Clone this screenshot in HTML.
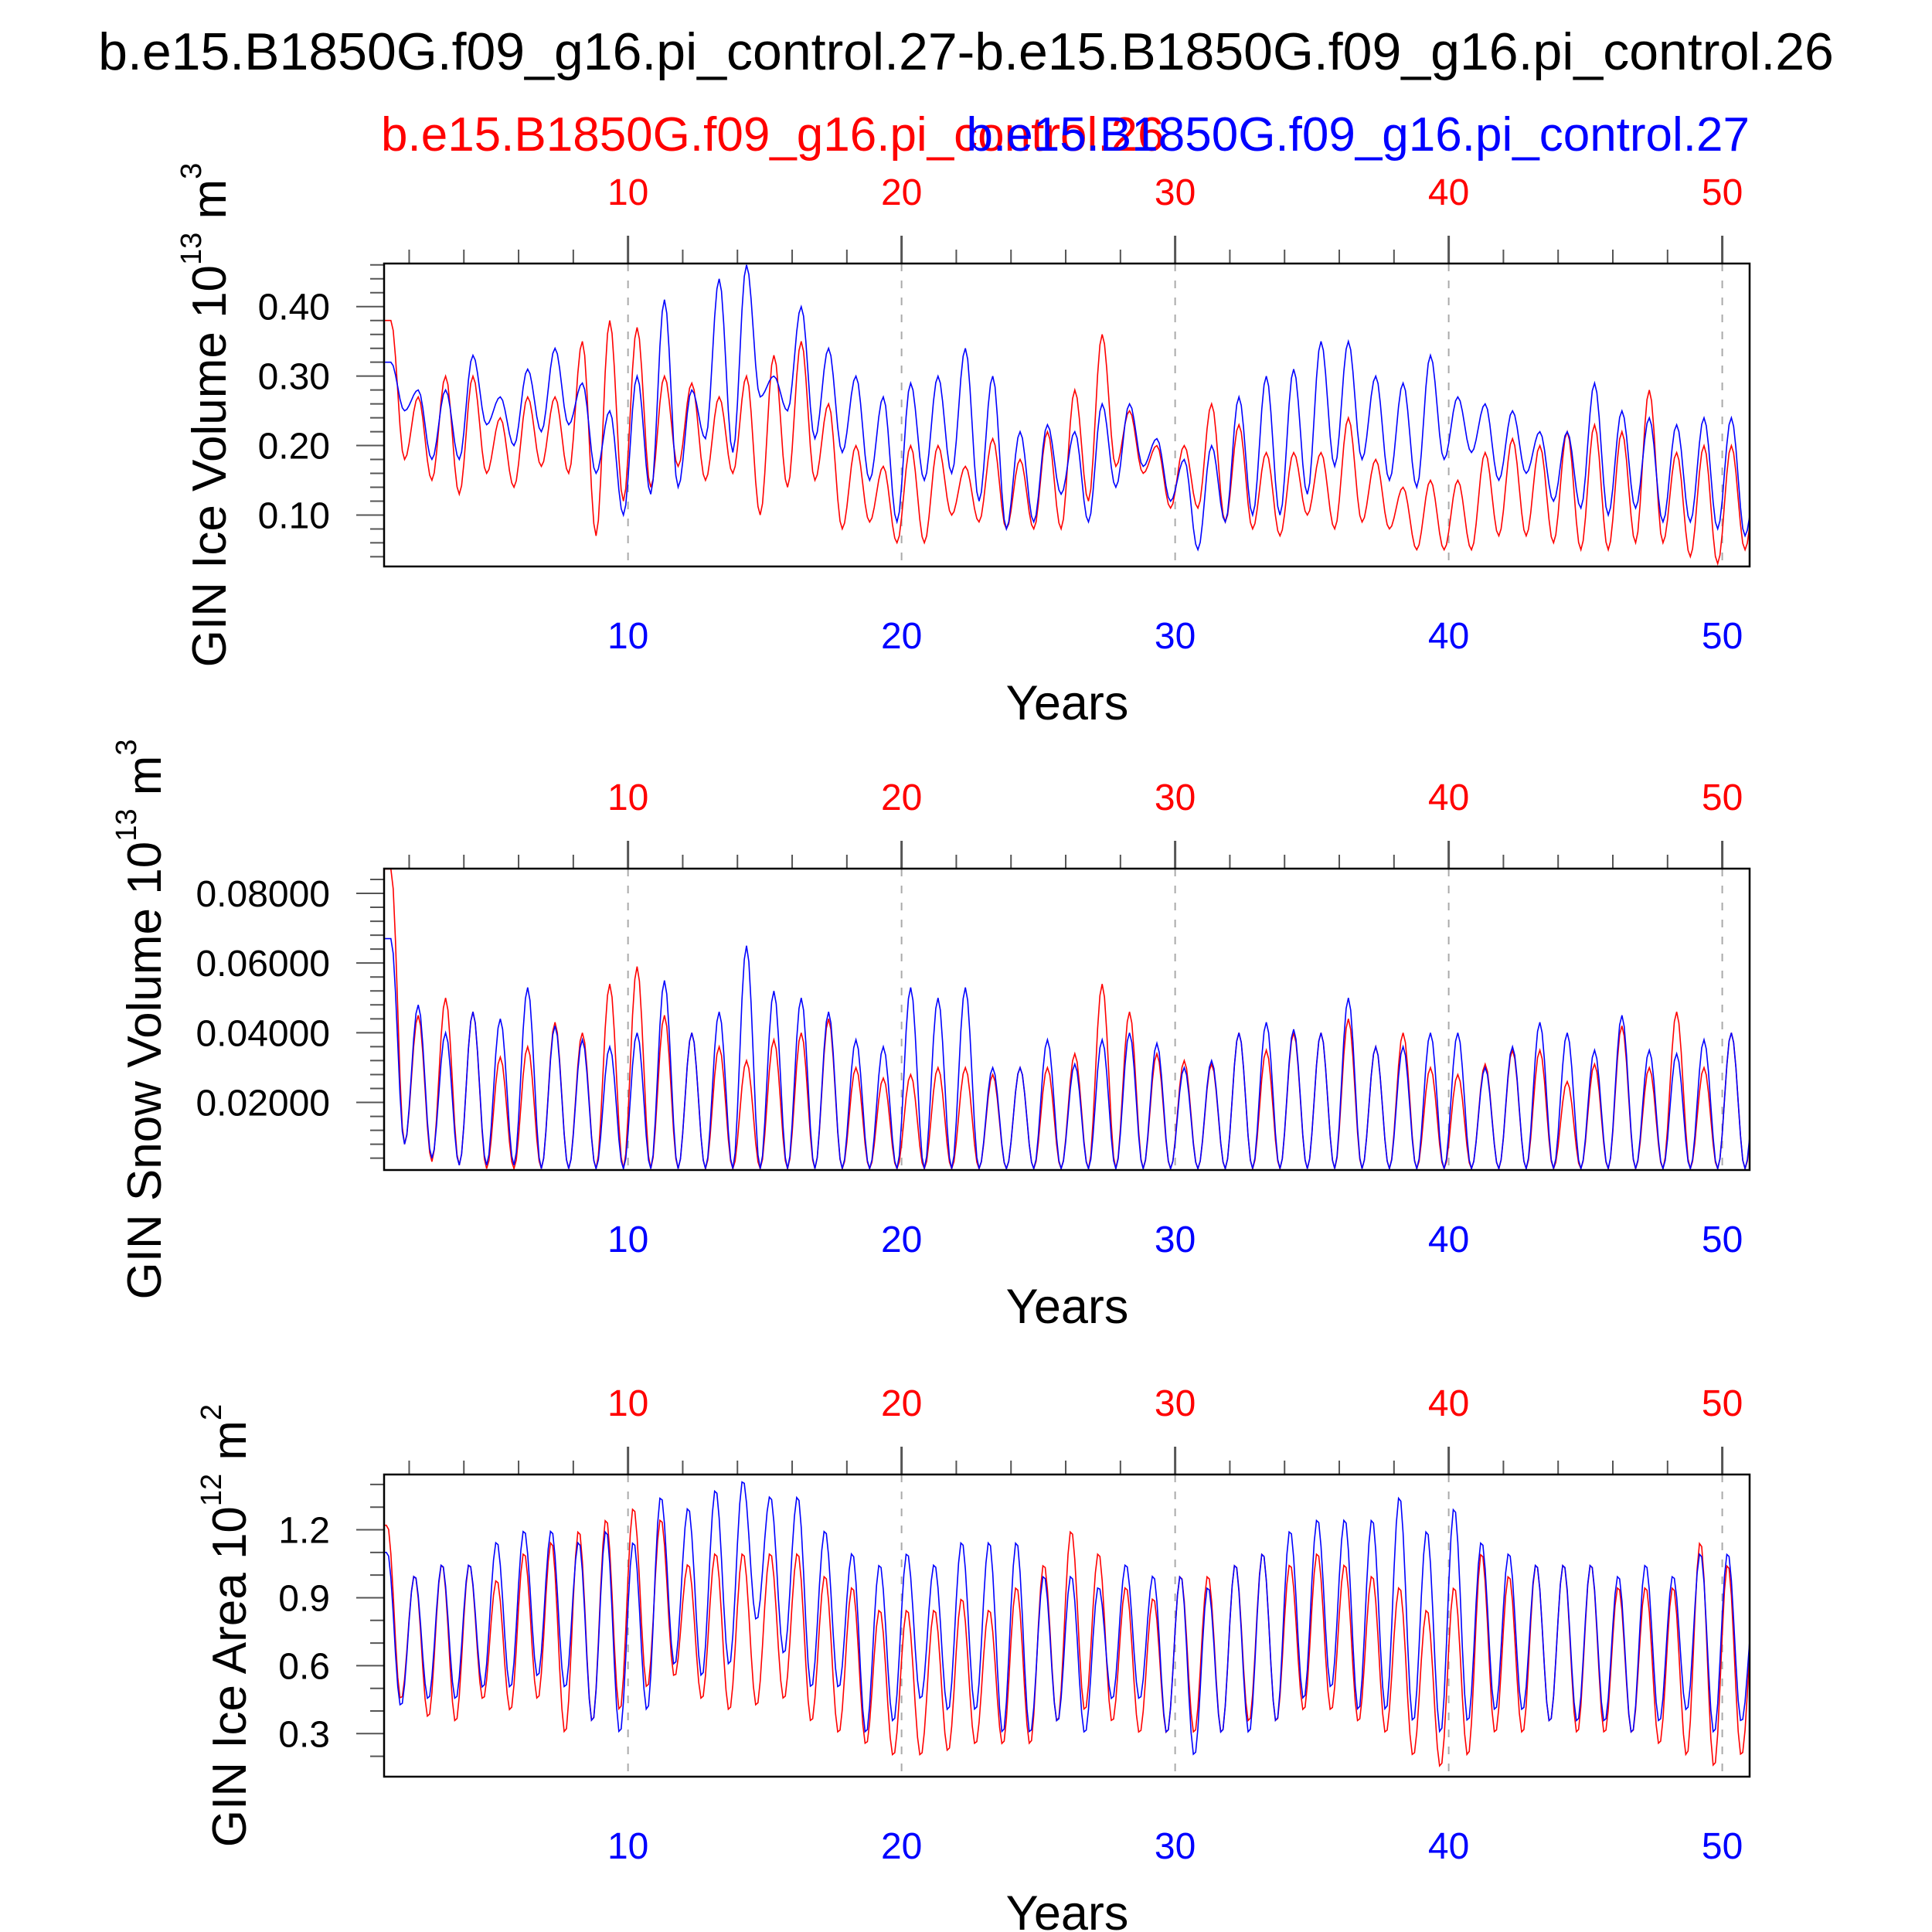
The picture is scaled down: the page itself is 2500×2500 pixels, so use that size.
<!DOCTYPE html>
<html><head><meta charset="utf-8">
<style>
html,body{margin:0;padding:0;background:#fff;}
svg{display:block;font-family:"Liberation Sans",sans-serif;}
</style></head>
<body>
<svg id="chart" width="2500" height="2500" viewBox="0 0 2500 2500" xmlns="http://www.w3.org/2000/svg">
<text x="1250" y="90" font-size="68" text-anchor="middle">b.e15.B1850G.f09_g16.pi_control.27-b.e15.B1850G.f09_g16.pi_control.26</text>
<text x="493" y="195" font-size="62" fill="#ff0000">b.e15.B1850G.f09_g16.pi_control.26</text>
<text x="2264" y="195" font-size="62" fill="#0000ff" text-anchor="end">b.e15.B1850G.f09_g16.pi_control.27</text>
</svg>
<script>
// ---- data: yearly seasonal maxima/minima (years 1..51) ----
const years = Array.from({length:51},(_,i)=>i+1);
const xTicks = [10,20,30,40,50];
const iceVolTicks = [0.10,0.20,0.30,0.40];
const iceVolTickLabels = ["0.10","0.20","0.30","0.40"];
const snowTicks = [0.02,0.04,0.06,0.08];
const snowTickLabels = ["0.02000","0.04000","0.06000","0.08000"];
const areaTicks = [0.3,0.6,0.9,1.2];
const areaTickLabels = ["0.3","0.6","0.9","1.2"];

const iceVolRedMax = [0.38,0.27,0.30,0.30,0.24,0.27,0.27,0.35,0.38,0.37,0.30,0.29,0.27,0.30,0.33,0.35,0.26,0.20,0.17,0.20,0.20,0.17,0.21,0.18,0.22,0.28,0.36,0.25,0.20,0.20,0.26,0.23,0.19,0.19,0.19,0.24,0.18,0.14,0.15,0.15,0.19,0.21,0.20,0.22,0.23,0.22,0.28,0.19,0.20,0.20,0.18];
const iceVolRedMin = [0.18,0.15,0.13,0.16,0.14,0.17,0.16,0.07,0.12,0.14,0.17,0.15,0.16,0.10,0.14,0.15,0.08,0.09,0.06,0.06,0.10,0.09,0.08,0.08,0.08,0.12,0.17,0.16,0.11,0.11,0.09,0.08,0.07,0.10,0.08,0.09,0.08,0.05,0.05,0.05,0.07,0.07,0.06,0.05,0.05,0.06,0.06,0.04,0.03,0.05,0.09];
const iceVolBlueMax = [0.32,0.28,0.28,0.33,0.27,0.31,0.34,0.29,0.25,0.30,0.41,0.28,0.44,0.46,0.30,0.40,0.34,0.30,0.27,0.29,0.30,0.34,0.30,0.22,0.23,0.22,0.26,0.26,0.21,0.18,0.20,0.27,0.30,0.31,0.35,0.35,0.30,0.29,0.33,0.27,0.26,0.25,0.22,0.22,0.29,0.25,0.24,0.23,0.24,0.24,0.18];
const iceVolBlueMin = [0.25,0.18,0.18,0.23,0.20,0.22,0.23,0.16,0.10,0.13,0.14,0.21,0.19,0.27,0.25,0.21,0.19,0.15,0.09,0.15,0.16,0.12,0.08,0.09,0.13,0.09,0.14,0.17,0.12,0.05,0.09,0.10,0.10,0.13,0.17,0.18,0.15,0.14,0.18,0.19,0.15,0.16,0.12,0.11,0.10,0.11,0.09,0.09,0.08,0.07,0.10];

const snowRedMax = [0.087,0.045,0.050,0.046,0.033,0.036,0.043,0.040,0.054,0.059,0.045,0.040,0.036,0.032,0.038,0.040,0.044,0.030,0.027,0.028,0.030,0.030,0.028,0.030,0.030,0.034,0.054,0.046,0.034,0.032,0.031,0.040,0.035,0.040,0.040,0.044,0.036,0.040,0.030,0.028,0.031,0.035,0.035,0.026,0.031,0.042,0.030,0.046,0.030,0.040,0.030];
const snowRedMin = [0.008,0.003,0.002,0.001,0.001,0.001,0.001,0.001,0.001,0.001,0.001,0.001,0.001,0.001,0.001,0.001,0.001,0.001,0.001,0.001,0.001,0.001,0.001,0.001,0.001,0.001,0.001,0.001,0.001,0.001,0.001,0.001,0.001,0.001,0.001,0.001,0.001,0.001,0.001,0.001,0.001,0.001,0.001,0.001,0.001,0.001,0.001,0.001,0.001,0.001,0.001];
const snowBlueMax = [0.067,0.048,0.040,0.046,0.044,0.053,0.042,0.038,0.036,0.040,0.055,0.040,0.046,0.065,0.052,0.050,0.046,0.038,0.036,0.053,0.050,0.053,0.030,0.030,0.038,0.031,0.038,0.040,0.037,0.030,0.032,0.040,0.043,0.041,0.040,0.050,0.036,0.036,0.040,0.040,0.030,0.036,0.043,0.040,0.035,0.045,0.035,0.034,0.038,0.040,0.036];
const snowBlueMin = [0.008,0.004,0.002,0.002,0.002,0.001,0.001,0.001,0.001,0.001,0.001,0.001,0.001,0.001,0.001,0.001,0.001,0.001,0.001,0.001,0.001,0.001,0.001,0.001,0.001,0.001,0.001,0.001,0.001,0.001,0.001,0.001,0.001,0.001,0.001,0.001,0.001,0.001,0.001,0.001,0.001,0.001,0.001,0.001,0.001,0.001,0.001,0.001,0.001,0.001,0.001];

const areaRedMax = [1.22,1.0,1.05,1.05,0.98,1.1,1.15,1.2,1.25,1.30,1.25,1.05,1.1,1.1,1.1,1.1,1.0,0.95,0.85,0.85,0.85,0.9,0.85,0.95,1.05,1.2,1.1,0.95,0.9,1.0,1.0,1.05,1.1,1.05,1.1,1.05,1.0,0.95,0.85,0.95,1.1,1.0,1.05,1.05,1.05,0.95,0.95,0.95,1.15,1.05,0.9];
const areaRedMin = [0.45,0.37,0.35,0.45,0.4,0.45,0.3,0.35,0.4,0.5,0.55,0.45,0.4,0.42,0.45,0.35,0.3,0.25,0.2,0.2,0.22,0.25,0.25,0.25,0.35,0.4,0.35,0.3,0.3,0.3,0.3,0.35,0.35,0.4,0.4,0.35,0.3,0.2,0.15,0.2,0.3,0.3,0.35,0.3,0.3,0.3,0.25,0.2,0.15,0.2,0.35];
const areaBlueMax = [1.1,1.0,1.05,1.05,1.15,1.2,1.2,1.15,1.2,1.15,1.35,1.3,1.38,1.42,1.35,1.35,1.2,1.1,1.05,1.1,1.05,1.15,1.15,1.15,1.0,1.0,0.95,1.05,1.0,1.0,0.95,1.05,1.1,1.2,1.25,1.25,1.25,1.35,1.2,1.3,1.15,1.1,1.05,1.05,1.05,1.0,1.05,1.0,1.1,1.1,0.9];
const areaBlueMin = [0.42,0.45,0.45,0.5,0.5,0.55,0.5,0.35,0.3,0.4,0.6,0.55,0.6,0.8,0.65,0.5,0.5,0.3,0.35,0.45,0.4,0.4,0.3,0.3,0.35,0.3,0.45,0.45,0.3,0.2,0.3,0.3,0.35,0.45,0.5,0.4,0.4,0.35,0.3,0.35,0.4,0.4,0.35,0.35,0.35,0.3,0.35,0.4,0.3,0.35,0.35];

const NS="http://www.w3.org/2000/svg";
const svg=document.getElementById('chart');
const X0=497, X1=2264, T0=1.083, T1=51.0;
function xs(t){return X0+(t-T0)/(T1-T0)*(X1-X0);}
function mk(tag,attrs,parent){const e=document.createElementNS(NS,tag);for(const k in attrs)e.setAttribute(k,attrs[k]);(parent||svg).appendChild(e);return e;}

function seriesPoints(maxA,minA,peakPhase){
  const ext=[];
  years.forEach((y,i)=>{ext.push([y+peakPhase,maxA[i]]);ext.push([y+peakPhase+0.5,minA[i]]);});
  const pts=[];
  for(let t=T0;t<=T1+1e-6;t+=1/12){
    let k=0;while(k<ext.length-2&&ext[k+1][0]<t)k++;
    const a=ext[k],b=ext[k+1];
    let f=(t-a[0])/(b[0]-a[0]);f=Math.max(0,Math.min(1,f));
    const w=0.5-0.5*Math.cos(Math.PI*f);
    pts.push([t,a[1]+(b[1]-a[1])*w]);
  }
  return pts;
}

function panel(cfg){
  const {top,bot,vmin,vmax,ticks,labels,minor,red,blue,title,titleX,sup,unit,name}=cfg;
  const g=mk('g',{});
  
  
  const ys=v=>bot-(v-vmin)/(vmax-vmin)*(bot-top);
  xTicks.forEach(t=>{const l=mk('line',{x1:xs(t),x2:xs(t),y1:top,y2:bot,stroke:'#aaa','stroke-width':2,'stroke-dasharray':'10,12'},g);
    });
  for(let t=2;t<=50;t+=2){const major=t%10===0;
    mk('line',{x1:xs(t),x2:xs(t),y1:top,y2:top-(major?36:18),stroke:'#555','stroke-width':major?3:2},g);
    if(major){const tx=mk('text',{x:xs(t),y:top-76,'font-size':48,fill:'#ff0000','text-anchor':'middle'},g);tx.textContent=t;
      
      const bx=mk('text',{x:xs(t),y:bot+106,'font-size':48,fill:'#0000ff','text-anchor':'middle'},g);bx.textContent=t;
      }
  }
  for(let v=Math.ceil(vmin/minor)*minor;v<=vmax+1e-9;v+=minor){
    const isMaj=ticks.some(m=>Math.abs(m-v)<minor/4);
    mk('line',{x1:X0,x2:X0-(isMaj?36:18),y1:ys(v),y2:ys(v),stroke:'#555','stroke-width':2},g);
  }
  ticks.forEach((v,i)=>{const tx=mk('text',{x:427,y:ys(v)+17,'font-size':48,'text-anchor':'end'},g);tx.textContent=labels[i];
    });
  const clip='clip-'+name;
  const cp=mk('clipPath',{id:clip},g);mk('rect',{x:X0,y:top,width:X1-X0,height:bot-top},cp);
  [[red,'#ff0000','red-series'],[blue,'#0000ff','blue-series']].forEach(([s,c,n])=>{
    const pts=seriesPoints(s[0],s[1],s[2]).map(p=>xs(p[0]).toFixed(1)+','+ys(p[1]).toFixed(1)).join(' ');
    const pl=mk('polyline',{points:pts,fill:'none',stroke:c,'stroke-width':1.6,'clip-path':'url(#'+clip+')'},g);
    
  });
  const fr=mk('rect',{x:X0,y:top,width:X1-X0,height:bot-top,fill:'none',stroke:'#000','stroke-width':2.5},g);
  
  const xt=mk('text',{x:1381,y:bot+198,'font-size':63,'text-anchor':'middle'},g);xt.textContent='Years';
  
  const yc=(top+bot)/2;
  const yt=mk('text',{x:0,y:0,'font-size':62,'text-anchor':'middle',transform:`translate(${titleX},${yc}) rotate(-90)`},g);
  yt.innerHTML=`${title} 10<tspan font-size="38" dy="-32">${sup}</tspan><tspan dy="32"> m</tspan><tspan font-size="38" dy="-32">${unit}</tspan>`;
  
}

panel({name:'ice-volume-panel',top:341,bot:733,vmin:0.026,vmax:0.462,ticks:iceVolTicks,labels:iceVolTickLabels,minor:0.02,
  red:[iceVolRedMax,iceVolRedMin,0.33],blue:[iceVolBlueMax,iceVolBlueMin,0.33],title:'GIN Ice Volume',titleX:292,sup:'13',unit:'3'});
panel({name:'snow-volume-panel',top:1124,bot:1514,vmin:0.0006,vmax:0.0871,ticks:snowTicks,labels:snowTickLabels,minor:0.004,
  red:[snowRedMax,snowRedMin,0.33],blue:[snowBlueMax,snowBlueMin,0.33],title:'GIN Snow Volume',titleX:208,sup:'13',unit:'3'});
panel({name:'ice-area-panel',top:1908,bot:2299,vmin:0.11,vmax:1.444,ticks:areaTicks,labels:areaTickLabels,minor:0.1,
  red:[areaRedMax,areaRedMin,0.2],blue:[areaBlueMax,areaBlueMin,0.2],title:'GIN Ice Area',titleX:318,sup:'12',unit:'2'});
</script>
</body></html>
